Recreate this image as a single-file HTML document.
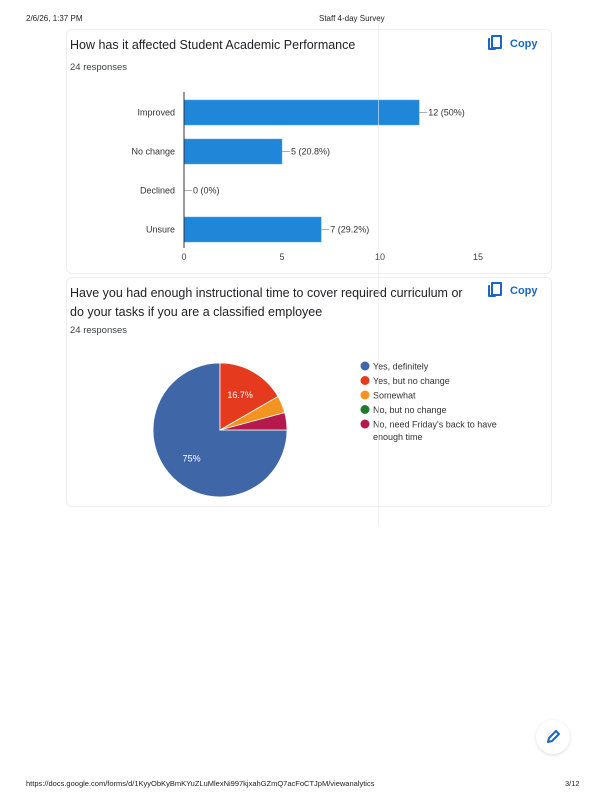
<!DOCTYPE html>
<html><head><meta charset="utf-8"><style>
body{margin:0;width:613px;height:800px;background:#fff;font-family:"Liberation Sans",sans-serif;position:relative;overflow:hidden}
.abs{position:absolute;white-space:nowrap}
.card{position:absolute;border:1px solid #eceef0;border-radius:6px;background:#fff}
.title{font-size:12.5px;color:#202124}
.sub{font-size:9.5px;color:#3c4043}
.copy{color:#1a66c6;font-size:11px;font-weight:bold}
.ci{display:inline-block;position:relative;width:14px;height:15px;vertical-align:-3px;margin-right:8px}
.ci i{position:absolute;border:2px solid #1a66c6;border-radius:1px}
</style></head><body>
<div class="abs" style="left:26px;top:14px;font-size:8px;color:#222">2/6/26, 1:37 PM</div>
<div class="abs" style="left:319px;top:14px;font-size:8px;color:#222">Staff 4-day Survey</div>
<div class="card" style="left:66px;top:29px;width:484px;height:243px"></div>
<div class="card" style="left:66px;top:277px;width:484px;height:228px"></div>
<div class="abs title" style="left:70px;top:38px">How has it affected Student Academic Performance</div>
<div class="abs sub" style="left:70px;top:62px">24 responses</div>
<div class="abs copy" style="left:488px;top:35px"><span class="ci"><i style="left:0;top:3px;width:6px;height:10px;border-right:none;border-top:none"></i><i style="left:3px;top:0;width:7px;height:10px"></i></span>Copy</div>
<div class="abs title" style="left:70px;top:284px;line-height:19px">Have you had enough instructional time to cover required curriculum or<br>do your tasks if you are a classified employee</div>
<div class="abs sub" style="left:70px;top:325px">24 responses</div>
<div class="abs copy" style="left:488px;top:282px"><span class="ci"><i style="left:0;top:3px;width:6px;height:10px;border-right:none;border-top:none"></i><i style="left:3px;top:0;width:7px;height:10px"></i></span>Copy</div>
<svg id="chart" class="abs" style="left:0;top:0" width="613" height="800"></svg>
<div class="abs" style="left:378px;top:25px;width:1px;height:500px;background:#e8e8e8;opacity:.6"></div>
<div class="abs" style="left:536px;top:720px;width:34px;height:34px;border-radius:50%;box-shadow:0 1px 3px rgba(0,0,0,.15)"><svg width="34" height="34"><path d="M12 22 L13 18 L20 11 L23 14 L16 21 Z" fill="none" stroke="#1a66c6" stroke-width="2" stroke-linejoin="round"/></svg></div>
<div class="abs" style="left:26px;top:779px;font-size:7.5px;color:#222">https://docs.google.com/forms/d/1KyyObKyBmKYuZLuMlexNi997kjxahGZmQ7acFoCTJpM/viewanalytics</div>
<div class="abs" style="left:565px;top:779px;font-size:7.5px;color:#222">3/12</div>
<script>
const barCategories=["Improved","No change","Declined","Unsure"];
const barValues=[12,5,0,7];
const barLabels=["12 (50%)","5 (20.8%)","0 (0%)","7 (29.2%)"];
const xTicks=[0,5,10,15];
const pieCategories=["Yes, definitely","Yes, but no change","Somewhat","No, but no change","No, need Friday's back to have enough time"];
const pieValues=[18,4,1,0,1];
const pieColors=["#3f66a6","#e53a1e","#f39320","#1e7a2c","#b41a4b"];
const NS="http://www.w3.org/2000/svg";
const svg=document.getElementById('chart');
function mk(t,a,txt){const e=document.createElementNS(NS,t);for(const k in a)e.setAttribute(k,a[k]);if(txt!=null)e.textContent=txt;svg.appendChild(e);return e;}
const x0=184,x1=478,xMax=15;
const xs=v=>x0+(x1-x0)*v/xMax;
const yTop=92,band=39;
const yc=i=>yTop+band*(i+0.5)+1;
let e;
xTicks.forEach(t=>{e=mk('text',{x:xs(t),y:260,'text-anchor':'middle','font-size':9,fill:'#444'},t);

});
barCategories.forEach((c,i)=>{
 const y=yc(i);
 e=mk('text',{x:175,y:y+3,'text-anchor':'end','font-size':9,fill:'#333'},c);
 
 
 e=mk('rect',{x:x0,y:y-12.5,width:xs(barValues[i])-x0,height:25,fill:'#1f86d8',stroke:'#5aa8e6','stroke-width':0.5});
 
 
 const xe=xs(barValues[i]);
 mk('line',{x1:xe,y1:y,x2:xe+8,y2:y,stroke:'#999','stroke-width':0.8});
 e=mk('text',{x:xe+9,y:y+3,'font-size':9,fill:'#333'},barLabels[i]);
 
 
});
e=mk('line',{x1:x0,y1:yTop,x2:x0,y2:yTop+band*4,stroke:'#333','stroke-width':1});


const cx=220,cy=430,r=67,total=pieValues.reduce((a,b)=>a+b,0);
let ang=90;
const pt=a=>[cx+r*Math.sin(a*Math.PI/180),cy-r*Math.cos(a*Math.PI/180)];
pieValues.forEach((v,i)=>{
 if(v<=0)return;
 const sw=360*v/total,a1=ang,a2=ang+sw;
 const p1=pt(a1),p2=pt(a2);
 e=mk('path',{d:`M${cx},${cy}L${p1[0]},${p1[1]}A${r},${r} 0 ${sw>180?1:0} 1 ${p2[0]},${p2[1]}Z`,fill:pieColors[i],stroke:'#fff','stroke-width':0.8});
 
 
 const pct=100*v/total;
 if(pct>10){const m=(a1+a2)/2*Math.PI/180,rr=r*0.6;
  e=mk('text',{x:cx+rr*Math.sin(m),y:cy-rr*Math.cos(m)+3,'text-anchor':'middle','font-size':9,fill:'#fff'},(Math.round(pct*10)/10)+'%');
  
  }
 ang=a2%360;
});
const legLines=[["Yes, definitely"],["Yes, but no change"],["Somewhat"],["No, but no change"],["No, need Friday's back to have","enough time"]];
pieCategories.forEach((c,i)=>{
 const y=366+i*14.5;
 e=mk('circle',{cx:365,cy:y,r:4.5,fill:pieColors[i]});
 
 
 legLines[i].forEach((l,j)=>{e=mk('text',{x:373,y:y+3.5+j*12.5,'font-size':9,fill:'#333'},l);
 
 });
});
</script>
</body></html>
